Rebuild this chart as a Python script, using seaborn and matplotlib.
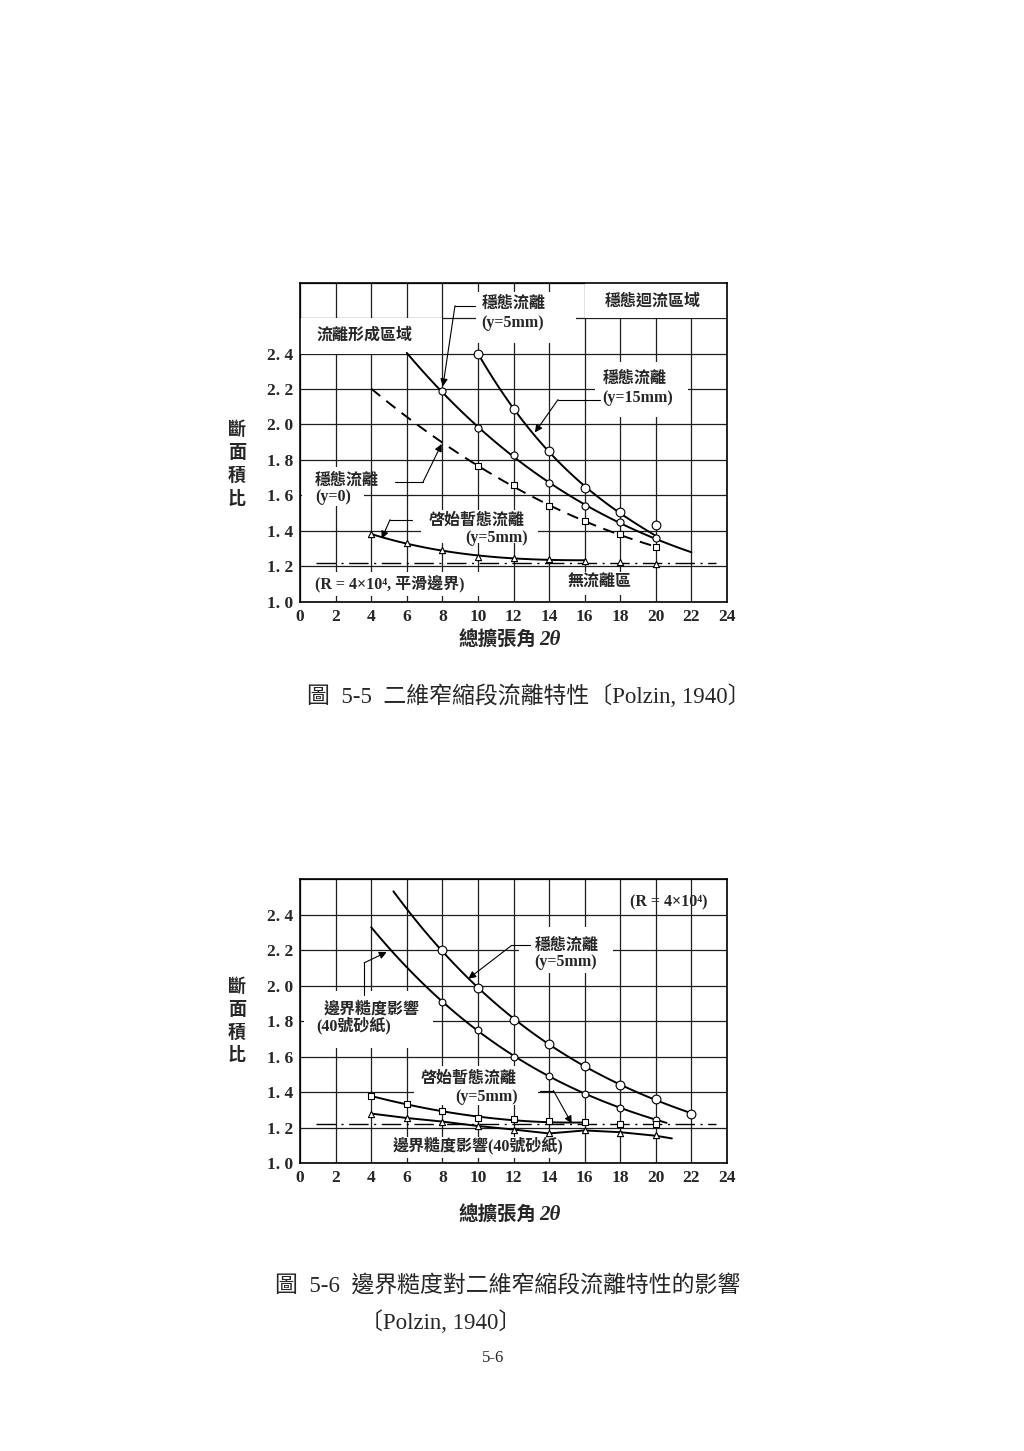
import numpy as np
import pandas as pd
import seaborn as sns
import matplotlib.pyplot as plt
from matplotlib.patches import Rectangle

sns.set_theme(style="white")
plt.rcParams["font.family"] = ["Liberation Serif", "DejaVu Serif", "Noto Sans CJK TC"]
plt.rcParams["font.weight"] = "bold"

#########################
# data
#########################

x_ticks = [0, 2, 4, 6, 8, 10, 12, 14, 16, 18, 20, 22, 24]
x_labels = ["0", "2", "4", "6", "8", "10", "12", "14", "16", "18", "20", "22", "24"]
y_ticks_55 = [1.0, 1.2, 1.4, 1.6, 1.8, 2.0, 2.2, 2.4, 2.6, 2.8]
y_labels_55 = ["1. 0", "1. 2", "1. 4", "1. 6", "1. 8", "2. 0", "2. 2", "2. 4", "", ""]
y_ticks_56 = [1.0, 1.2, 1.4, 1.6, 1.8, 2.0, 2.2, 2.4, 2.6]
y_labels_56 = ["1. 0", "1. 2", "1. 4", "1. 6", "1. 8", "2. 0", "2. 2", "2. 4", ""]

# 圖 5-5
s5_line_x = [6, 8, 10, 12, 14, 16, 18, 20, 22]
s5_line_y = [2.40, 2.19, 1.98, 1.825, 1.67, 1.538, 1.45, 1.36, 1.275]
s5_pt_x = [8, 10, 12, 14, 16, 18, 20]
s5_pt_y = [2.19, 1.98, 1.825, 1.67, 1.538, 1.45, 1.36]

s15_line_x = [10, 12, 14, 16, 18, 20]
s15_line_y = [2.40, 2.09, 1.85, 1.643, 1.506, 1.37]
s15_pt_x = [10, 12, 14, 16, 18, 20]
s15_pt_y = [2.40, 2.09, 1.85, 1.643, 1.506, 1.431]

s0_line_x = [4, 6, 8, 10, 12, 14, 16, 18, 20]
s0_line_y = [2.20, 2.05, 1.89, 1.768, 1.656, 1.538, 1.455, 1.38, 1.309]
s0_pt_x = [10, 12, 14, 16, 18, 20]
s0_pt_y = [1.768, 1.656, 1.538, 1.455, 1.38, 1.309]

t5_line_x = [4, 6, 8, 10, 12, 14, 16]
t5_line_y = [1.38, 1.332, 1.29, 1.253, 1.247, 1.24, 1.232]
t5_pt_x = [4, 6, 8, 10, 12, 14, 16, 18, 20]
t5_pt_y = [1.38, 1.332, 1.29, 1.253, 1.247, 1.24, 1.232, 1.225, 1.215]

nosep_x_55 = [0.9, 23.4]
nosep_y_55 = [1.22, 1.22]

# 圖 5-6
e_line_x = [5.25, 8, 10, 12, 14, 16, 18, 20, 22]
e_line_y = [2.53, 2.20, 1.99, 1.81, 1.67, 1.55, 1.44, 1.36, 1.28]
e_pt_x = [8, 10, 12, 14, 16, 18, 20, 22]
e_pt_y = [2.20, 1.99, 1.81, 1.67, 1.55, 1.44, 1.36, 1.28]

f_line_x = [4, 8, 10, 12, 14, 16, 18, 20, 20.6]
f_line_y = [2.33, 1.91, 1.75, 1.60, 1.494, 1.392, 1.314, 1.242, 1.23]
f_pt_x = [8, 10, 12, 14, 16, 18, 20]
f_pt_y = [1.91, 1.75, 1.60, 1.494, 1.392, 1.314, 1.242]

g_line_x = [4, 6, 8, 10, 12, 14, 16]
g_line_y = [1.377, 1.336, 1.295, 1.255, 1.245, 1.235, 1.228]
g_pt_x = [4, 6, 8, 10, 12, 14, 16, 18, 20]
g_pt_y = [1.377, 1.336, 1.295, 1.255, 1.252, 1.237, 1.233, 1.22, 1.223]

h_line_x = [4, 6, 8, 10, 12, 14, 16, 18, 20, 20.9]
h_line_y = [1.28, 1.255, 1.235, 1.21, 1.19, 1.168, 1.185, 1.175, 1.155, 1.14]
h_pt_x = [4, 6, 8, 10, 12, 14, 16, 18, 20]
h_pt_y = [1.28, 1.255, 1.235, 1.21, 1.19, 1.168, 1.185, 1.168, 1.158]

nosep_x_56 = [0.9, 23.4]
nosep_y_56 = [1.22, 1.22]

#########################
# helpers
#########################

LBL = 11.5


def smooth(ax, x, y, ls="-", order=3):
    sns.regplot(x=np.array(x), y=np.array(y), order=order, ci=None, scatter=False,
                truncate=True, color="black", ax=ax,
                line_kws=dict(lw=1.4, ls=ls, zorder=3))


def marks(ax, x, y, marker, s):
    sns.scatterplot(x=x, y=y, marker=marker, s=s, facecolor="white",
                    edgecolor="black", linewidth=0.8, ax=ax, zorder=4)


def whitebox(ax, x0, x1, y0, y1):
    ax.add_patch(Rectangle((x0, y0), x1 - x0, y1 - y0, facecolor="white",
                           edgecolor="none", zorder=1.5))


def leader(ax, pts, tip):
    xs = [p[0] for p in pts]
    ys = [p[1] for p in pts]
    ax.plot(xs, ys, color="black", lw=0.8, zorder=3)
    ax.annotate("", xy=tip, xytext=pts[-1],
                arrowprops=dict(arrowstyle="-|>", color="black", lw=0.8,
                                mutation_scale=11, shrinkA=0, shrinkB=0), zorder=3)


def label(ax, x, y, s, size=LBL, ha="center"):
    ax.text(x, y, s, ha=ha, va="center", fontsize=size, fontweight="bold", zorder=5)


def frame(ax, ymax, yticks, ylabels, xlab_y, ylab_y):
    ax.set_xlim(0, 24)
    ax.set_ylim(1.0, ymax)
    ax.set_xticks(x_ticks)
    ax.set_xticklabels(x_labels, fontsize=12.5, fontweight="bold")
    ax.set_yticks(yticks)
    ax.set_yticklabels(ylabels, fontsize=12.5, fontweight="bold")
    ax.tick_params(length=0, pad=5)
    ax.grid(True, color="#1e1e1e", lw=0.9)
    ax.set_axisbelow(True)
    for sp in ax.spines.values():
        sp.set_color("black")
        sp.set_linewidth(1.2)
    ax.set_xlabel("")
    ax.set_ylabel("")
    ax.text(0.555, xlab_y, "總擴張角", transform=ax.transAxes, ha="right",
            va="center", fontsize=14, fontweight="bold")
    ax.text(0.56, xlab_y, "2θ", transform=ax.transAxes, ha="left",
            va="center", fontsize=15, fontweight="bold", style="italic")
    ax.text(-0.148, ylab_y, "斷\n面\n積\n比", transform=ax.transAxes, ha="center",
            va="center", fontsize=13, fontweight="bold", linespacing=1.45)


fig = plt.figure(figsize=(10.24, 14.51), dpi=100)

#########################
# 圖 5-5
#########################

ax1 = fig.add_axes([0.293, 0.5853, 0.417, 0.2199])
frame(ax1, 2.8, y_ticks_55, y_labels_55, -0.12, 0.43)

whitebox(ax1, 0, 8, 2.4, 2.6)
whitebox(ax1, 16, 24, 2.6, 2.8)
whitebox(ax1, 9.9, 15.5, 2.46, 2.75)
whitebox(ax1, 16.6, 21.8, 2.04, 2.35)
whitebox(ax1, 0.1, 3.6, 1.54, 1.76)
whitebox(ax1, 6.8, 13.4, 1.33, 1.52)
whitebox(ax1, 0.3, 10.2, 1.03, 1.17)
whitebox(ax1, 15.3, 18.9, 1.04, 1.17)

smooth(ax1, s5_line_x, s5_line_y)
smooth(ax1, s15_line_x, s15_line_y)
smooth(ax1, s0_line_x, s0_line_y, ls=(0, (6, 4)))
smooth(ax1, t5_line_x, t5_line_y)
ax1.plot(nosep_x_55, nosep_y_55, color="black", lw=1.0, ls=(0, (14, 4, 1.5, 4)), zorder=3)

marks(ax1, s5_pt_x, s5_pt_y, "o", 26)
marks(ax1, s15_pt_x, s15_pt_y, "o", 40)
marks(ax1, s0_pt_x, s0_pt_y, "s", 18)
marks(ax1, t5_pt_x, t5_pt_y, "^", 20)

label(ax1, 3.65, 2.50, "流離形成區域")
label(ax1, 19.85, 2.69, "穩態迴流區域")
label(ax1, 12.0, 2.68, "穩態流離")
label(ax1, 11.95, 2.57, "(y=5mm)")
label(ax1, 18.8, 2.26, "穩態流離")
label(ax1, 19.0, 2.15, "(y=15mm)")
label(ax1, 2.6, 1.684, "穩態流離")
label(ax1, 1.86, 1.59, "(y=0)")
label(ax1, 9.93, 1.459, "啓始暫態流離")
label(ax1, 11.05, 1.362, "(y=5mm)")
label(ax1, 5.06, 1.094, "(R = 4×10⁴, 平滑邊界)")
label(ax1, 16.86, 1.107, "無流離區")

leader(ax1, [(9.84, 2.67), (8.71, 2.67)], (8.03, 2.215))
leader(ax1, [(16.86, 2.14), (14.5, 2.14)], (13.2, 1.955))
leader(ax1, [(5.34, 1.675), (6.91, 1.675)], (7.96, 1.89))
leader(ax1, [(6.28, 1.463), (5.06, 1.463)], (4.59, 1.356))

#########################
# 圖 5-6
#########################

ax2 = fig.add_axes([0.293, 0.1983, 0.417, 0.1957])
frame(ax2, 2.6, y_ticks_56, y_labels_56, -0.182, 0.50)

whitebox(ax2, 12.3, 17.6, 2.07, 2.33)
whitebox(ax2, 0.2, 7.5, 1.65, 1.97)
whitebox(ax2, 6.4, 13.4, 1.33, 1.55)
whitebox(ax2, 4.9, 15.3, 1.03, 1.15)

smooth(ax2, e_line_x, e_line_y)
smooth(ax2, f_line_x, f_line_y)
smooth(ax2, g_line_x, g_line_y)
sns.lineplot(x=h_line_x, y=h_line_y, color="black", lw=1.4, ax=ax2,
             sort=False, estimator=None, zorder=3)
ax2.plot(nosep_x_56, nosep_y_56, color="black", lw=1.0, ls=(0, (14, 4, 1.5, 4)), zorder=3)

marks(ax2, e_pt_x, e_pt_y, "o", 40)
marks(ax2, f_pt_x, f_pt_y, "o", 24)
marks(ax2, g_pt_x, g_pt_y, "s", 18)
marks(ax2, h_pt_x, h_pt_y, "^", 20)

label(ax2, 20.7, 2.47, "(R = 4×10⁴)")
label(ax2, 15.0, 2.228, "穩態流離")
label(ax2, 14.9, 2.134, "(y=5mm)")
label(ax2, 4.03, 1.868, "邊界糙度影響")
label(ax2, 3.0, 1.774, "(40號砂紙)")
label(ax2, 9.46, 1.476, "啓始暫態流離")
label(ax2, 10.49, 1.373, "(y=5mm)")
label(ax2, 10.03, 1.10, "邊界糙度影響(40號砂紙)")

leader(ax2, [(12.93, 2.228), (11.9, 2.228)], (9.46, 2.04))
leader(ax2, [(3.6, 1.95), (3.6, 2.129)], (4.87, 2.19))
leader(ax2, [(13.49, 1.41), (14.24, 1.41)], (15.27, 1.224))

#########################
# captions
#########################

fig.text(0.2995, 0.5199, "圖  5-5  二維窄縮段流離特性〔Polzin, 1940〕", ha="left",
         va="center", fontsize=16.5, fontweight="normal")
fig.text(0.2686, 0.1132, "圖  5-6  邊界糙度對二維窄縮段流離特性的影響", ha="left",
         va="center", fontsize=16.5, fontweight="normal")
fig.text(0.3516, 0.0891, "〔Polzin, 1940〕", ha="left", va="center",
         fontsize=16.5, fontweight="normal")
fig.text(0.4814, 0.0641, "5-6", ha="center", va="center", fontsize=12,
         fontweight="normal")

fig.savefig("out.png", dpi=100, facecolor="white")
